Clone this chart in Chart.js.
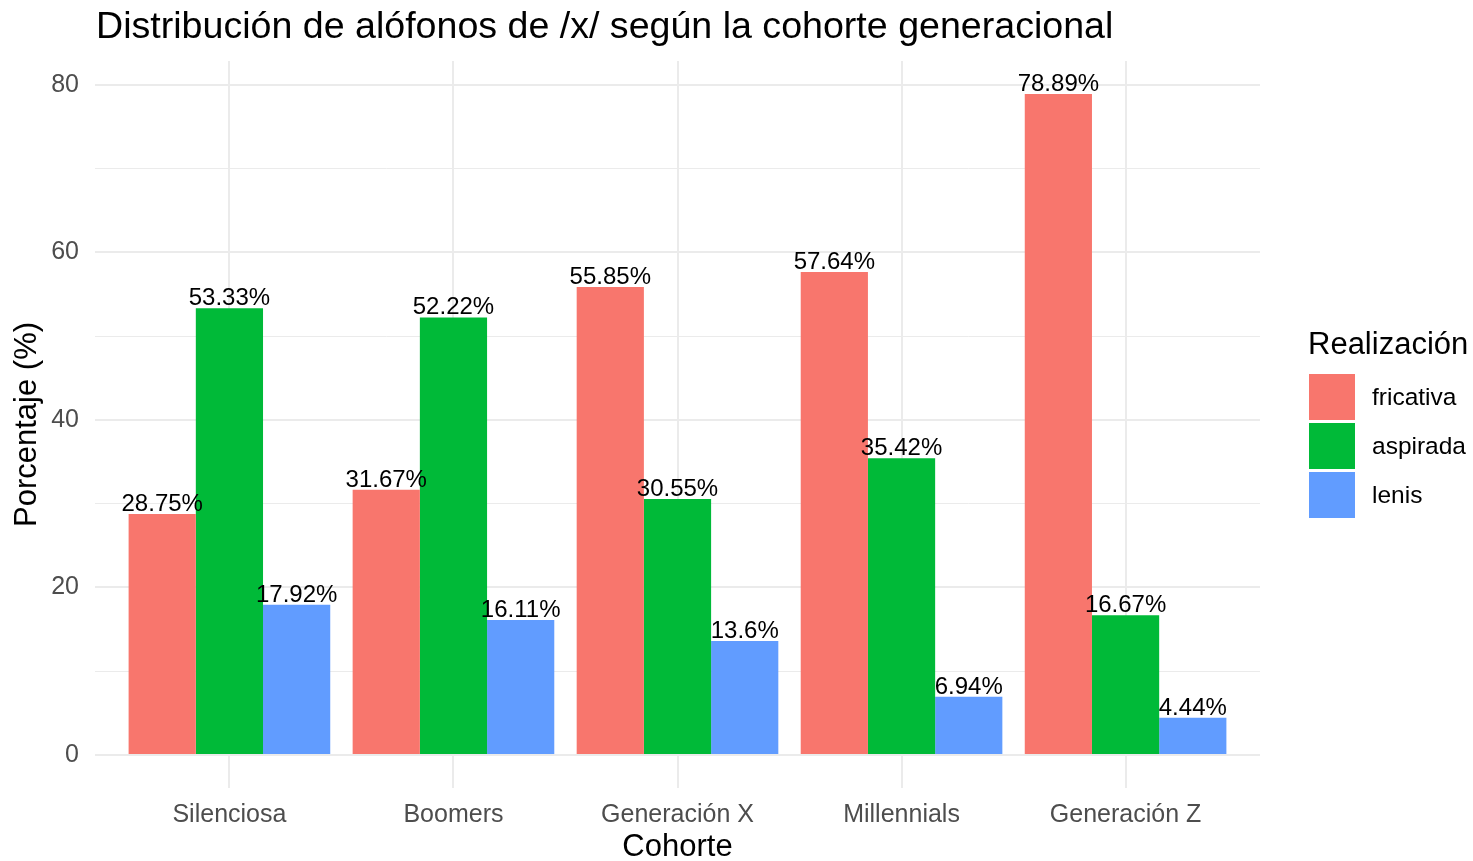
<!DOCTYPE html>
<html>
<head>
<meta charset="utf-8">
<script src="https://cdn.jsdelivr.net/npm/chart.js@4/dist/chart.umd.min.js"></script>
<style>
html, body { margin: 0; padding: 0; background: #fff; }
#wrap { width: 1473px; height: 861px; }
</style>
</head>
<body>
<div id="wrap"><canvas id="myChart" width="1473" height="861"></canvas></div>
<script>
// data
const cohortes = ['Silenciosa', 'Boomers', 'Generación X', 'Millennials', 'Generación Z'];
const fricativa = [28.75, 31.67, 55.85, 57.64, 78.89];
const aspirada = [53.33, 52.22, 30.55, 35.42, 16.67];
const lenis = [17.92, 16.11, 13.6, 6.94, 4.44];
const realizaciones = ['fricativa', 'aspirada', 'lenis'];
const colores = ['#F8766D', '#00BA38', '#619CFF'];
const yTicks = [0, 10, 20, 30, 40, 50, 60, 70, 80];

const FONT = '"Liberation Sans", Arial, Helvetica, sans-serif';
Chart.defaults.font.family = FONT;

const series = [fricativa, aspirada, lenis];
const yMaxData = Math.max(...fricativa, ...aspirada, ...lenis);

// one dataset per realización, x = cohort index (1..5)
const datasets = series.map((vals, k) => ({
  label: realizaciones[k],
  backgroundColor: colores[k],
  borderWidth: 0,
  categoryPercentage: 0.9,
  barPercentage: 1.0,
  data: vals.map((v, i) => ({ x: i + 1, y: v }))
}));

// value labels over each bar
const barLabels = {
  id: 'barLabels',
  afterDatasetsDraw(chart) {
    const ctx = chart.ctx;
    ctx.save();
    ctx.font = '24px ' + FONT;
    ctx.fillStyle = '#000';
    ctx.textAlign = 'center';
    ctx.textBaseline = 'alphabetic';
    chart.data.datasets.forEach((ds, di) => {
      chart.getDatasetMeta(di).data.forEach((bar, i) => {
        ctx.fillText(ds.data[i].y + '%', bar.x, bar.y - 3);
      });
    });
    ctx.restore();
  }
};

// title + legend drawn the ggplot way
const decor = {
  id: 'decor',
  afterDraw(chart) {
    const ctx = chart.ctx;
    ctx.save();
    ctx.fillStyle = '#000';
    ctx.textAlign = 'left';
    ctx.textBaseline = 'alphabetic';
    ctx.font = '37.6px ' + FONT;
    ctx.fillText('Distribución de alófonos de /x/ según la cohorte generacional', 96, 38);

    ctx.font = '31px ' + FONT;
    ctx.fillText('Realización', 1308, 354);

    ctx.font = '24.5px ' + FONT;
    ctx.textBaseline = 'middle';
    chart.data.datasets.forEach((ds, k) => {
      const top = 374 + k * 49;
      ctx.fillStyle = ds.backgroundColor;
      ctx.fillRect(1309, top, 46, 46);
      ctx.fillStyle = '#000';
      ctx.fillText(ds.label, 1372, top + 24);
    });
    ctx.restore();
  }
};

const config = {
  type: 'bar',
  data: { datasets: datasets },
  options: {
    responsive: false,
    animation: false,
    layout: { padding: { left: 0, right: 213, top: 61, bottom: 0 } },
    plugins: {
      legend: { display: false },
      title: { display: false },
      tooltip: { enabled: false }
    },
    scales: {
      x: {
        type: 'linear',
        offset: false,
        min: 0.4,
        max: 5.6,
        afterBuildTicks: s => { s.ticks = cohortes.map((c, i) => ({ value: i + 1 })); },
        afterFit: s => { s.height = 73; s.paddingLeft = 0; s.paddingRight = 0; },
        grid: { color: '#EBEBEB', lineWidth: 2, drawTicks: false, offset: false },
        border: { display: false },
        ticks: {
          callback: v => cohortes[v - 1],
          color: '#4D4D4D',
          font: { size: 25 },
          padding: 12,
          maxRotation: 0,
          autoSkip: false
        },
        title: { display: true, text: 'Cohorte', color: '#000', font: { size: 31 }, padding: { top: 0, bottom: -5 } }
      },
      y: {
        min: -0.05 * yMaxData,
        max: 1.05 * yMaxData,
        afterBuildTicks: s => { s.ticks = yTicks.map(v => ({ value: v })); },
        afterFit: s => { s.width = 95; s.paddingTop = 0; s.paddingBottom = 0; },
        grid: {
          color: '#EBEBEB',
          lineWidth: c => (c.tick && c.tick.value % 20 === 0) ? 2 : 1,
          drawTicks: false
        },
        border: { display: false },
        ticks: {
          callback: v => (v % 20 === 0 ? v : ''),
          color: '#4D4D4D',
          font: { size: 25 },
          padding: 16,
          autoSkip: false
        },
        title: { display: true, text: 'Porcentaje (%)', color: '#000', font: { size: 31 }, padding: { top: 9, bottom: 0 } }
      }
    }
  },
  plugins: [barLabels, decor]
};

const myChart = new Chart(document.getElementById('myChart'), config);
</script>
</body>
</html>
